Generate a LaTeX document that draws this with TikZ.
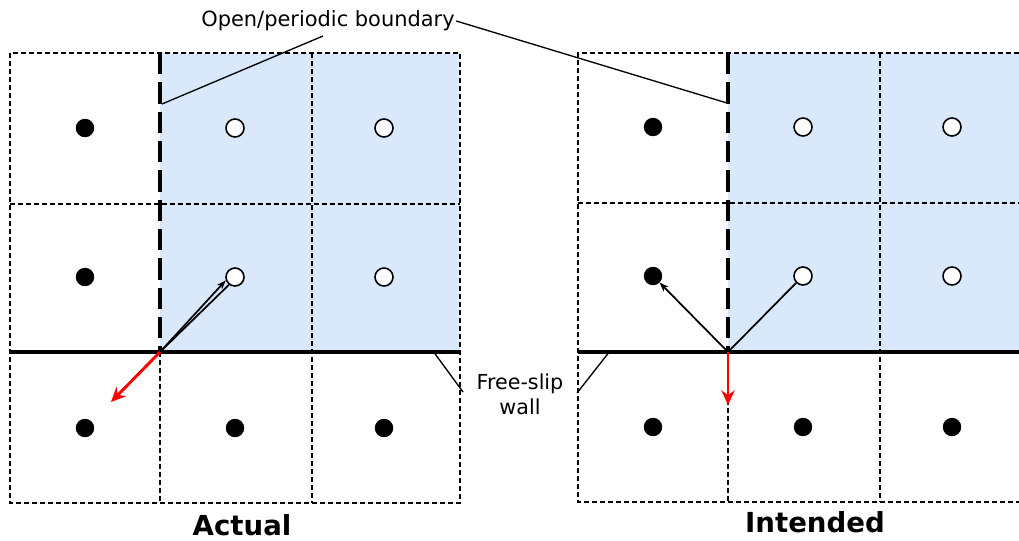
\documentclass[tikz,border=0pt]{standalone}
\usepackage{fontspec}
\setmainfont{DejaVu Sans}
\usetikzlibrary{arrows.meta,calc}
\definecolor{cellblue}{HTML}{DAE8FC}
\tikzset{
  gridline/.style={line width=1pt, dash pattern=on 3.5pt off 2.5pt},
  wall/.style={line width=2.5pt},
  bnd/.style={line width=2.5pt, dash pattern=on 16pt off 6pt},
  fdot/.style={circle, fill=black, draw=black, line width=0.8pt, minimum size=13pt, inner sep=0pt},
  odot/.style={circle, fill=white, draw=black, line width=1.2pt, minimum size=13.5pt, inner sep=0pt},
  vec/.style={line width=1.3pt, -{Stealth[length=7pt,width=5pt]}},
  redvec/.style={draw=red, line width=2.2pt, -{Stealth[length=11pt,width=10pt]}},
  leader/.style={line width=1pt},
  lbl/.style={font=\fontsize{15.7}{18.75}\selectfont, inner sep=1pt, align=center},
  title/.style={font=\bfseries\fontsize{20.7}{24}\selectfont, inner sep=1pt}
}
\begin{document}
\begin{tikzpicture}[x=0.75pt,y=-0.75pt]
\useasboundingbox (0,0) rectangle (1019,540);
% ---------- left panel ----------
\fill[cellblue] (160,53) rectangle (460,352);
\draw[gridline] (10,53) rectangle (460,503);
\draw[gridline] (10,204) -- (460,204);
\draw[gridline] (312,53) -- (312,503);
\draw[gridline] (160,352) -- (160,503);
\draw[bnd] (160,53) -- (160,352);
\draw[wall] (10,352) -- (460,352);
\coordinate (LC) at (160,352);
\node[fdot] (L11) at (85,128) {};
\node[odot] (L12) at (235,128) {};
\node[odot] (L13) at (384,128) {};
\node[fdot] (L21) at (85,277) {};
\node[odot] (L22) at (235,277) {};
\node[odot] (L23) at (384,277) {};
\node[fdot] (L31) at (85,428) {};
\node[fdot] (L32) at (235,428) {};
\node[fdot] (L33) at (384,428) {};
\draw[vec] (LC) -- (L22.200);
\draw[line width=1.3pt] (LC) -- (L22.232);
\coordinate (LR) at (111,402);
\draw[redvec] (LC) -- (LR);
% ---------- right panel ----------
\fill[cellblue] (728,53) rectangle (1019,352);
\draw[gridline] (1019,53) -- (578,53) -- (578,502) -- (1019,502);
\draw[gridline] (578,203) -- (1019,203);
\draw[gridline] (880,53) -- (880,502);
\draw[gridline] (728,352) -- (728,502);
\draw[bnd] (728,53) -- (728,352);
\draw[wall] (578,352) -- (1019,352);
\coordinate (RC) at (728,352);
\node[fdot] (R11) at (653,127) {};
\node[odot] (R12) at (803,127) {};
\node[odot] (R13) at (952,127) {};
\node[fdot] (R21) at (653,276) {};
\node[odot] (R22) at (803,276) {};
\node[odot] (R23) at (952,276) {};
\node[fdot] (R31) at (653,427) {};
\node[fdot] (R32) at (803,427) {};
\node[fdot] (R33) at (952,427) {};
\draw[vec] (RC) -- (R21.-45);
\draw[line width=1.3pt] (RC) -- (R22.225);
\coordinate (RR) at (728,405);
\draw[redvec] (RC) -- (RR);
% ---------- labels ----------
\node[lbl] (ob) at (328,21) {Open/periodic boundary};
\coordinate (obl) at (323,36);
\coordinate (obL) at (162,104);
\coordinate (obR) at (727,103);
\draw[leader] (obl) -- (obL);
\draw[leader] (ob.east) -- (obR);
\node[lbl, font=\fontsize{15.5}{19}\selectfont] (fs) at (520,394) {Free-slip\\wall};
\coordinate (fsL1) at (433,351);
\coordinate (fsL2) at (463,392);
\coordinate (fsR1) at (610,351);
\coordinate (fsR2) at (577,393);
\draw[leader] (fsL1) -- (fsL2);
\draw[leader] (fsR1) -- (fsR2);
\node[title] (act) at (242,525) {Actual};
\node[title] (int) at (815,522) {Intended};
\end{tikzpicture}
\end{document}
